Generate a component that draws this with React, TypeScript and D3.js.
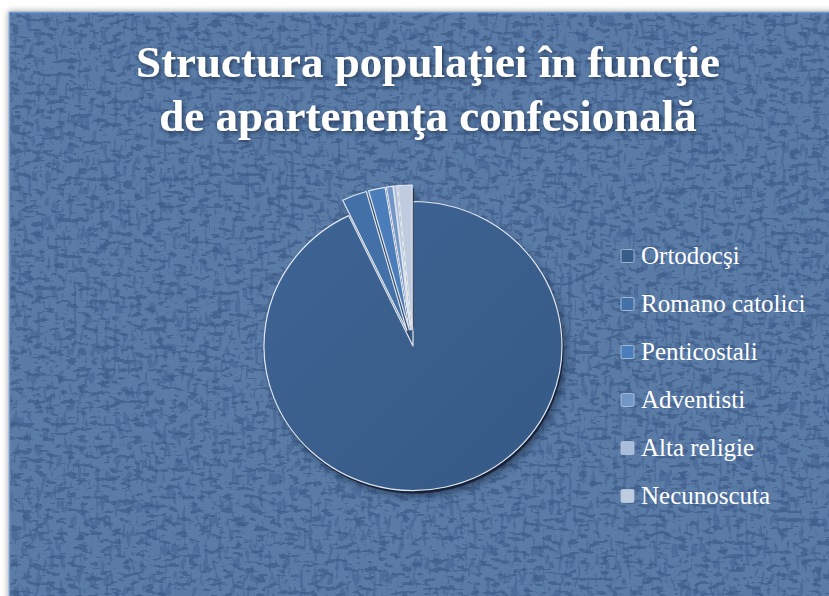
import React from "react";
import * as d3 from "d3";

const categories = ["Ortodocşi", "Romano catolici", "Penticostali", "Adventisti", "Alta religie", "Necunoscuta"];
const values = [92.9, 2.7, 1.8, 0.7, 0.35, 1.55];
const colors = ["#385d8a", "#4470a8", "#4b7dba", "#7396c9", "#a9bcd9", "#bfcbde"];
const titleLines = ["Structura populaţiei în funcţie", "de apartenenţa confesională"];

const W = 829;
const H = 596;

export default function App() {
  const cx = 413;
  const cy = 346;
  const r = 149;
  const sy = 0.97;
  const explode = 17;

  const pie = d3.pie<number>().sort(null).value((d) => d).startAngle(0).endAngle(2 * Math.PI);
  const arcs = pie(values);
  const arc = d3.arc<d3.PieArcDatum<number>>().innerRadius(0).outerRadius(r);

  const legendY = d3.scaleLinear().domain([0, categories.length - 1]).range([256, 496]);

  return (
    <svg width={W} height={H} style={{ position: "absolute", left: 0, top: 0 }} xmlns="http://www.w3.org/2000/svg">
      <defs>
        <filter id="tex" x="0" y="0" width="1" height="1" colorInterpolationFilters="sRGB">
          <feTurbulence type="fractalNoise" baseFrequency="0.09 0.22" numOctaves="3" seed="7" result="n" />
          <feColorMatrix in="n" type="matrix" values="0 0 0 0 0.21  0 0 0 0 0.31  0 0 0 0 0.49  -16 0 0 0 7.0" result="m" />
          <feComposite in="m" in2="SourceGraphic" operator="in" />
        </filter>
        <filter id="tex2" x="0" y="0" width="1" height="1" colorInterpolationFilters="sRGB">
          <feTurbulence type="fractalNoise" baseFrequency="0.22 0.07" numOctaves="2" seed="11" result="n" />
          <feColorMatrix in="n" type="matrix" values="0 0 0 0 0.24  0 0 0 0 0.35  0 0 0 0 0.54  -16 0 0 0 6.9" result="m" />
          <feComposite in="m" in2="SourceGraphic" operator="in" />
        </filter>
        <filter id="frameShadow" x="-5%" y="-5%" width="110%" height="110%">
          <feDropShadow dx="-1" dy="-1" stdDeviation="3" floodColor="#000" floodOpacity="0.35" />
        </filter>
        <filter id="titleShadow" x="-10%" y="-30%" width="120%" height="160%">
          <feDropShadow dx="1.5" dy="2" stdDeviation="2" floodColor="#1c2c44" floodOpacity="0.8" />
        </filter>
        <filter id="pieShadow" x="-20%" y="-20%" width="140%" height="140%">
          <feGaussianBlur stdDeviation="4" />
        </filter>
        <linearGradient id="mainGrad" x1="0" y1="0" x2="1" y2="1">
          <stop offset="0" stopColor="#3e6494" />
          <stop offset="1" stopColor="#365a86" />
        </linearGradient>
      </defs>

      <rect x={0} y={0} width={W} height={H} fill="#ffffff" />
      <g filter="url(#frameShadow)">
        <rect x={9} y={12} width={W} height={H} fill="#5a7ba7" />
      </g>
      <rect x={9} y={12} width={W} height={H} fill="#5a7ba7" filter="url(#tex)" opacity={0.5} />
      <rect x={9} y={12} width={W} height={H} fill="#5a7ba7" filter="url(#tex2)" opacity={0.4} />
      <rect x={9.5} y={12.5} width={W} height={H} fill="none" stroke="#6e97cf" strokeWidth={1.5} />

      <g fill="#ffffff" fontFamily="'Liberation Serif', serif" fontWeight="bold" fontSize={45} textAnchor="middle" filter="url(#titleShadow)">
        {titleLines.map((t, i) => (
          <text key={i} x={428} y={77 + i * 54}>
            {t}
          </text>
        ))}
      </g>

      <g transform={`translate(${cx},${cy}) scale(1,${sy})`}>
        {arcs.map((a, i) => {
          const mid = (a.startAngle + a.endAngle) / 2;
          const dx = i === 0 ? 0 : Math.sin(mid) * explode;
          const dy = i === 0 ? 0 : -Math.cos(mid) * explode;
          return (
            <path key={"s" + i} d={arc(a) || ""} transform={`translate(${dx + 4},${dy + 6})`} fill="#0f1c30" opacity={0.55} filter="url(#pieShadow)" />
          );
        })}
        {arcs.map((a, i) => {
          const mid = (a.startAngle + a.endAngle) / 2;
          const dx = i === 0 ? 0 : Math.sin(mid) * explode;
          const dy = i === 0 ? 0 : -Math.cos(mid) * explode;
          return (
            <g key={"p" + i} transform={`translate(${dx},${dy})`}>
              <path d={arc(a) || ""} transform="translate(1.5,3)" fill="#15223a" />
              <path d={arc(a) || ""} fill={i === 0 ? "url(#mainGrad)" : colors[i]} stroke="#dfe6ef" strokeWidth={1.2} strokeLinejoin="round" />
            </g>
          );
        })}
      </g>

      <g fontFamily="'Liberation Serif', serif" fontSize={25} fill="#ffffff">
        {categories.map((c, i) => (
          <g key={c} transform={`translate(0,${legendY(i)})`}>
            <rect x={621} y={-6.5} width={13} height={13} fill={colors[i]} stroke="#b9c8de" strokeWidth={0.8} rx={1.5} />
            <text x={641} y={8}>
              {c}
            </text>
          </g>
        ))}
      </g>
    </svg>
  );
}
